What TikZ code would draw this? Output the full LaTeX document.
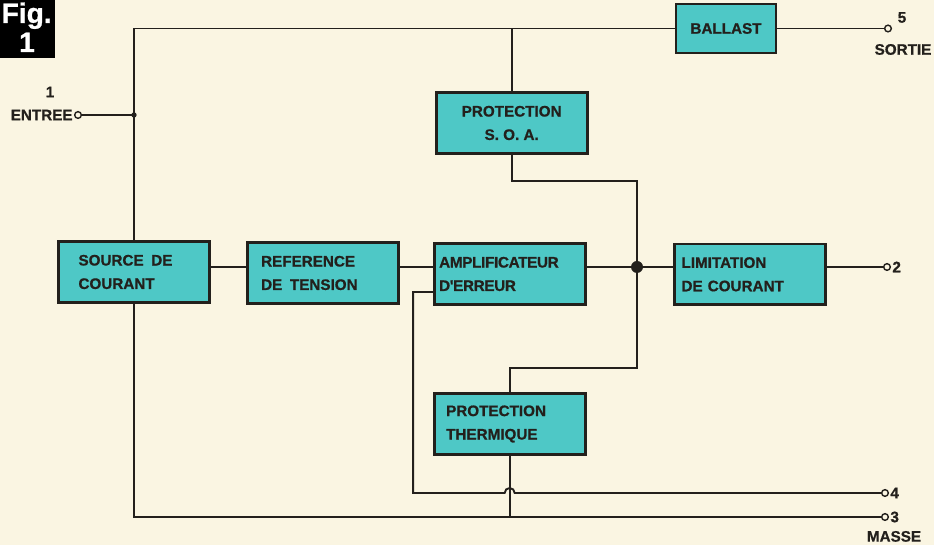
\documentclass[tikz,border=0pt]{standalone}
\usepackage{fontspec}
\newfontfamily\figfont{Liberation Sans}[FakeBold=0.8]
\usepackage{xcolor}
\usetikzlibrary{calc,positioning}
\definecolor{paper}{RGB}{250,245,226}
\definecolor{boxcyan}{RGB}{78,200,198}
\definecolor{ink}{RGB}{35,32,28}

\begin{document}
\begin{tikzpicture}[
  font=\figfont\bfseries\fontsize{13}{20}\selectfont,
  ink,
  blk/.style={draw=ink, line width=2.4pt, fill=boxcyan, minimum width=4.53cm,
              minimum height=1.82cm, align=left, inner xsep=#1,
              text width={4.53cm-2*#1}},
  blk/.default=0.3cm,
  wire/.style={line width=1.6pt},
  term/.style={circle, draw=ink, line width=1.2pt, fill=paper, inner sep=0pt,
               minimum size=0.2cm},
  junc/.style={circle, fill=ink, inner sep=0pt, minimum size=#1},
]
  \path[fill=paper, use as bounding box] (0,0) rectangle (28.02,16.35);

  % Fig. tag
  \fill[black] (0,14.61) rectangle (1.65,16.35);
  \node[white, anchor=base, font=\figfont\bfseries\fontsize{24}{24}\selectfont]
    (fig) at (0.8,15.66) {Fig.};
  \node[white, anchor=base, font=\figfont\bfseries\fontsize{24}{24}\selectfont]
    (fignum) at (0.81,14.79) {1};

  % Blocks
  \coordinate (row) at (0,8.34);
  \node[blk=0.6cm] (S) at (4.02,8.19) {SOURCE\enspace DE\\COURANT};
  \node[blk=0.42cm] (R) at (9.68,8.16) {REFERENCE\\DE\enspace TENSION};
  \node[blk=0.14cm] (A) at (15.3,8.13)
    {\addfontfeature{LetterSpace=-2}AMPLIFICATEUR\\D'ERREUR};
  \node[blk=0.22cm] (L) at (22.49,8.12) {LIMITATION\\DE COURANT};
  \node[blk=0.3cm, align=center] (SOA) at (15.35,12.66) {PROTECTION\\S.\;O.\;A.};
  \node[blk=0.36cm] (TH) at (15.29,3.63) {PROTECTION\\THERMIQUE};
  \node[blk=0.3cm, minimum width=3cm, text width=2.4cm, align=center,
        minimum height=1.47cm] (B) at (21.78,15.495) {BALLAST};

  % Terminals
  \node[term] (t1) at (2.34,12.9) {};
  \node[term] (t5) at (26.64,15.495) {};
  \node[term] (t2) at (26.61,8.34) {};
  \node[term] (t4) at (26.55,1.56) {};
  \node[term] (t3) at (26.55,0.84) {};
  \node (n1) at (1.5,13.59) {1};
  \node[left=0pt of t1, inner sep=1pt] (in) {ENTREE};
  \node (n5) at ($(t5)+(0.42,0.33)$) {5};
  \node (out) at ($(t5)+(0.45,-0.63)$) {SORTIE};
  \node[right=0pt of t2, inner sep=1pt] (n2) {2};
  \node[right=0pt of t4, inner sep=1pt] (n4) {4};
  \node[right=0pt of t3, inner sep=1pt] (n3) {3};
  \node[anchor=base, inner sep=0pt] (gnd) at (26.82,0.1) {MASSE};

  % Top rail
  \draw[wire] (S.north) |- (B.west);
  \draw[wire] (B.east) -- (t5);
  \draw[wire] (SOA.north) -- (SOA.north |- B.west);
  \draw[wire] (t1) -- (t1 -| S.north) node[junc=0.16cm] (j1) {};

  % Main row
  \node[junc=0.36cm] (J) at (19.11,8.34) {};
  \draw[wire] (S.east |- row) -- (R.west |- row);
  \draw[wire] (R.east |- row) -- (A.west |- row);
  \draw[wire] (A.east |- row) -- (L.west |- row);
  \draw[wire] (L.east |- row) -- (t2);
  \draw[wire] (SOA.south) -- ++(0,-0.8) -| (J);
  \draw[wire] (J) -- ++(0,-3.03) -| (TH.north);

  % Bottom rails
  \draw[wire] (S.south) |- (t3);
  \draw[wire] (TH.south) -- (TH.south |- t3);
  \draw[wire] ($(A.west)+(0,-0.54)$) -- ++(-0.6,0)
    |- ($(TH.south |- t4)+(-0.15,0)$) arc (180:0:0.15) -- (t4);
\end{tikzpicture}
\end{document}
